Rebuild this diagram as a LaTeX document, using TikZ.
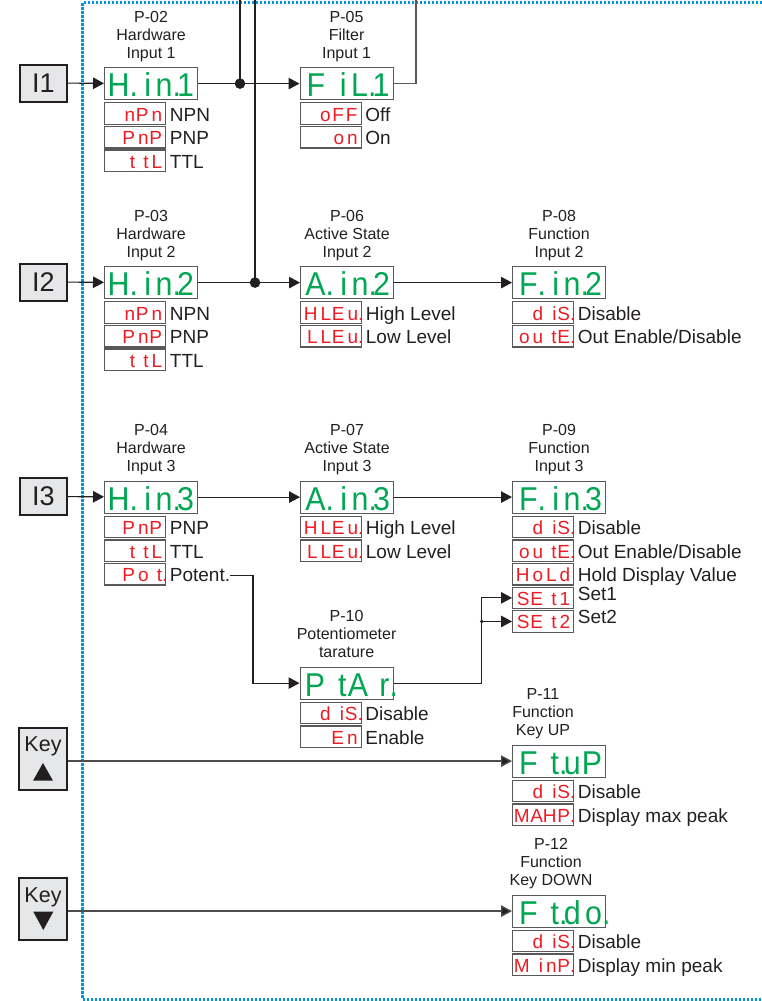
\documentclass[tikz,border=0pt]{standalone}
\usepackage{fontspec}
\setmainfont{Liberation Sans}
\newfontfamily\segfont[FakeStretch=0.92]{Liberation Sans}
\newfontfamily\segfontr{Liberation Sans}
\usetikzlibrary{arrows.meta}
\definecolor{segG}{RGB}{0,166,81}
\definecolor{segR}{RGB}{237,28,36}
\definecolor{dotB}{RGB}{0,150,220}
\definecolor{keyfill}{RGB}{230,231,232}
\definecolor{dk}{RGB}{35,31,32}
\newcommand\sdot{\rlap{.}}
\newcommand\gd[4]{\makebox[21.5pt][r]{#1}\makebox[21.5pt][r]{#2}\makebox[21.5pt][r]{#3}\makebox[21.5pt][r]{#4}}
\newcommand\rd[4]{\makebox[13.5pt][r]{#1}\makebox[13.5pt][r]{#2}\makebox[13.5pt][r]{#3}\makebox[13.5pt][r]{#4}}
\newcommand\opt[5]{%
  \node[rdisp] (#3) at ([yshift=-2pt-#2*23.6pt]#1.south west) {#4};
  \node[lbl] (#3l) at ([xshift=3.5pt,yshift=-7.5pt]#3.east) {#5};}
\begin{document}
\begin{tikzpicture}[x=1pt,y=-1pt,
  lbl/.style={font=\fontsize{19}{19}\selectfont, text=dk, inner sep=0pt, anchor=base west},
  captn/.style={font=\fontsize{16}{17.8}\selectfont, text=dk, align=center, inner sep=0pt, anchor=base},
  gdisp/.style={draw=black!65, line width=1.2pt, minimum width=93pt, minimum height=32pt, inner sep=0pt,
     anchor=north west, text=segG, font=\segfont\fontsize{33}{33}\selectfont, text height=26pt, text depth=0pt},
  rdisp/.style={draw=black!65, line width=1.2pt, minimum width=61pt, minimum height=21.5pt, inner sep=0pt,
     anchor=north west, text=segR, font=\segfontr\fontsize{19}{19}\selectfont, text height=15pt, text depth=0pt},
  inbox/.style={draw=dk, line width=2pt, fill=keyfill, minimum width=47pt, minimum height=37pt, inner sep=0pt,
     font=\fontsize{27}{27}\selectfont, text=dk},
  keybox/.style={draw=dk, line width=2pt, fill=keyfill, minimum width=48pt, minimum height=62pt, inner sep=0pt},
  keytxt/.style={font=\fontsize{21.5}{21.5}\selectfont, text=dk, inner sep=0pt},
  conn/.style={draw=dk, line width=1.1pt},
  arr/.style={conn, -{Triangle[length=11pt,width=11.5pt]}},
  keyline/.style={draw=black!70, line width=1.4pt, -{Triangle[length=11pt,width=11.5pt,fill=dk]}},
  border/.style={draw=dotB, line width=2.5pt, dash pattern=on 2.4pt off 1.6pt}
]
\useasboundingbox (0,0) rectangle (762,1001);
% dotted frame
\draw[border] (762,2.7) -- (82.7,2.7) -- (82.7,999.3) -- (762,999.3);

% input boxes
\node[inbox] (i1) at (43.5,83) {I1};
\node[inbox] (i2) at (43.5,282) {I2};
\node[inbox] (i3) at (43.5,496.5) {I3};
\node[keybox] (kup) at (43,759) {};
\node[keytxt] (kupt) at (43,746) {Key};
\fill[dk] (33,780.7) -- (53,780.7) -- (43,763) -- cycle;
\node[keybox] (kdn) at (43,908.5) {};
\node[keytxt] (kdnt) at (43,897) {Key};
\fill[dk] (33.3,911.7) -- (53.3,911.7) -- (43.3,930) -- cycle;

% displays
\node[gdisp] (hin1) at (104,67) {\gd{H\sdot}{i}{n\sdot}{1}};
\node[gdisp] (fil1) at (299.5,67) {\gd{F}{i}{L\sdot}{1}};
\node[gdisp] (hin2) at (104,266) {\gd{H\sdot}{i}{n\sdot}{2}};
\node[gdisp] (ain2) at (300,266) {\gd{A\sdot}{i}{n\sdot}{2}};
\node[gdisp] (fin2) at (512,266) {\gd{F\sdot}{i}{n\sdot}{2}};
\node[gdisp] (hin3) at (104,480.5) {\gd{H\sdot}{i}{n\sdot}{3}};
\node[gdisp] (ain3) at (300,480.5) {\gd{A\sdot}{i}{n\sdot}{3}};
\node[gdisp] (fin3) at (512,480.5) {\gd{F\sdot}{i}{n\sdot}{3}};
\node[gdisp] (ptar) at (299.5,666.5) {\gd{P}{t}{A}{r\sdot}};
\node[gdisp] (ftup) at (512,744.5) {\gd{F}{t\sdot}{u}{P}};
\node[gdisp] (ftdo) at (512,894.5) {\gd{F}{t\sdot}{d}{o\sdot}};

% captions (base = last line)
\node[captn] (c02) at ([yshift=9pt]hin1.north) {P-02\\Hardware\\Input 1};
\node[captn] (c05) at ([yshift=9pt]fil1.north) {P-05\\Filter\\Input 1};
\node[captn] (c03) at ([yshift=9pt]hin2.north) {P-03\\Hardware\\Input 2};
\node[captn] (c06) at ([yshift=9pt]ain2.north) {P-06\\Active State\\Input 2};
\node[captn] (c08) at ([yshift=9pt]fin2.north) {P-08\\Function\\Input 2};
\node[captn] (c04) at ([yshift=9pt]hin3.north) {P-04\\Hardware\\Input 3};
\node[captn] (c07) at ([yshift=9pt]ain3.north) {P-07\\Active State\\Input 3};
\node[captn] (c09) at ([yshift=9pt]fin3.north) {P-09\\Function\\Input 3};
\node[captn] (c10) at ([yshift=9pt]ptar.north) {P-10\\Potentiometer\\tarature};
\node[captn] (c11) at (543,735.5) {P-11\\Function\\Key UP};
\node[captn] (c12) at (551,885.5) {P-12\\Function\\Key DOWN};

% options
\opt{hin1}{0}{h1a}{\rd{}{n}{P}{n}}{NPN}
\opt{hin1}{1}{h1b}{\rd{}{P}{n}{P}}{PNP}
\opt{hin1}{2}{h1c}{\rd{}{t}{t}{L}}{TTL}
\opt{fil1}{0}{f1a}{\rd{}{o}{F}{F}}{Off}
\opt{fil1}{1}{f1b}{\rd{}{}{o}{n}}{On}
\opt{hin2}{0}{h2a}{\rd{}{n}{P}{n}}{NPN}
\opt{hin2}{1}{h2b}{\rd{}{P}{n}{P}}{PNP}
\opt{hin2}{2}{h2c}{\rd{}{t}{t}{L}}{TTL}
\opt{ain2}{0}{a2a}{\rd{H}{L}{E}{u\sdot}}{High Level}
\opt{ain2}{1}{a2b}{\rd{L}{L}{E}{u\sdot}}{Low Level}
\opt{fin2}{0}{f2a}{\rd{}{d}{i}{S\sdot}}{Disable}
\opt{fin2}{1}{f2b}{\rd{o}{u}{t}{E\sdot}}{Out Enable/Disable}
\opt{hin3}{0}{h3a}{\rd{}{P}{n}{P}}{PNP}
\opt{hin3}{1}{h3b}{\rd{}{t}{t}{L}}{TTL}
\opt{hin3}{2}{h3c}{\rd{}{P}{o}{t\sdot}}{Potent.}
\opt{ain3}{0}{a3a}{\rd{H}{L}{E}{u\sdot}}{High Level}
\opt{ain3}{1}{a3b}{\rd{L}{L}{E}{u\sdot}}{Low Level}
\opt{fin3}{0}{f3a}{\rd{}{d}{i}{S\sdot}}{Disable}
\opt{fin3}{1}{f3b}{\rd{o}{u}{t}{E\sdot}}{Out Enable/Disable}
\opt{fin3}{2}{f3c}{\rd{H}{o}{L}{d}}{Hold Display Value}
\node[rdisp] (set1) at ([yshift=-2pt-3*23.6pt]fin3.south west) {\rd{S}{E}{t}{1}};
\node[lbl] (set1l) at ([xshift=3.5pt,yshift=-2.5pt]set1.east) {Set1};
\node[rdisp] (set2) at ([yshift=-2pt-4*23.6pt]fin3.south west) {\rd{S}{E}{t}{2}};
\node[lbl] (set2l) at ([xshift=3.5pt,yshift=-2.5pt]set2.east) {Set2};
\opt{ptar}{0}{p1a}{\rd{}{d}{i}{S\sdot}}{Disable}
\opt{ptar}{1}{p1b}{\rd{}{}{E}{n}}{Enable}
\opt{ftup}{0}{u1a}{\rd{}{d}{i}{S\sdot}}{Disable}
\opt{ftup}{1}{u1b}{\rd{M}{A}{H}{P\sdot}}{Display max peak}
\opt{ftdo}{0}{d1a}{\rd{}{d}{i}{S\sdot}}{Disable}
\opt{ftdo}{1}{d1b}{\rd{M}{i}{n}{P\sdot}}{Display min peak}

% connectors
\coordinate (t1) at (240,0);
\coordinate (t2) at (255,0);
\coordinate (t3) at (416,0);
\coordinate (px) at (253,0);
\coordinate (bx) at (481.7,0);

\draw[arr] (i1) -- (hin1);
\draw[arr] (i2) -- (hin2);
\draw[arr] (i3) -- (hin3);
\draw[arr] (hin1) -- (fil1);
\draw[conn] (t1) -- (t1 |- hin1.east);
\fill[dk] (t1 |- hin1.east) circle (5.3pt);
\draw[conn] (t2) -- (t2 |- hin2.east);
\fill[dk] (t2 |- hin2.east) circle (5.3pt);
\draw[conn, draw=black!65] (fil1.east) -| (t3);
\draw[arr] (hin2) -- (ain2);
\draw[arr] (ain2) -- (fin2);
\draw[arr] (hin3) -- (ain3);
\draw[arr] (ain3) -- (fin3);
\draw[arr] (h3cl.east) -- (h3cl.east -| px) |- (ptar.west);
\draw[arr] (ptar.east) -| (bx |- set1.west) -- (set1.west);
\draw[arr] (bx |- set2.west) -- (set2.west);
\fill[dk] (bx |- set2.west) circle (1.9pt);
\draw[keyline] (kup.east |- ftup.west) -- (ftup.west);
\draw[keyline] (kdn.east |- ftdo.west) -- (ftdo.west);
\end{tikzpicture}
\end{document}
